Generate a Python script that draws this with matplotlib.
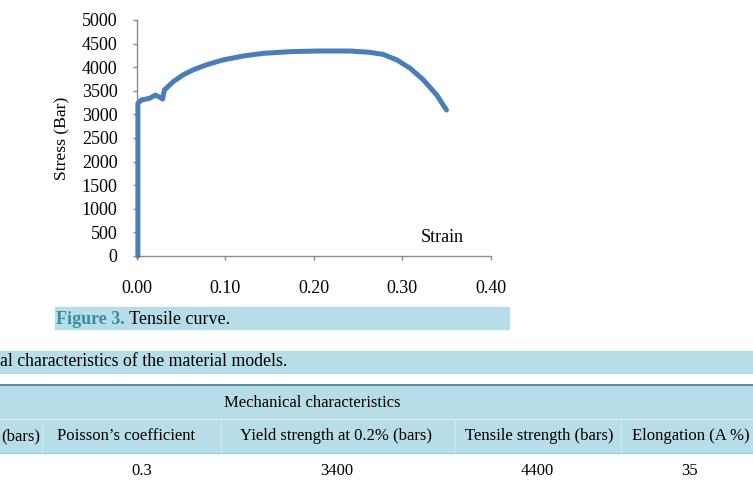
import matplotlib
matplotlib.use("Agg")
import matplotlib.pyplot as plt
from matplotlib.patches import Rectangle
from matplotlib.lines import Line2D

# ---- data ----
strain = [0.001, 0.001, 0.005, 0.014, 0.021, 0.026, 0.029, 0.031, 0.041, 0.052,
          0.063, 0.078, 0.097, 0.120, 0.143, 0.173, 0.203, 0.241, 0.263, 0.278,
          0.294, 0.309, 0.324, 0.339, 0.350]
stress = [0, 3234, 3305, 3340, 3410, 3360, 3325, 3517, 3694, 3835,
          3940, 4047, 4153, 4237, 4294, 4329, 4343, 4343, 4315, 4273,
          4153, 3976, 3729, 3410, 3093]
y_ticks = [0, 500, 1000, 1500, 2000, 2500, 3000, 3500, 4000, 4500, 5000]
x_ticks = [0.00, 0.10, 0.20, 0.30, 0.40]

caption_fig = "Figure 3."
caption_text = " Tensile curve."
table_caption = "al characteristics of the material models."
table_group = "Mechanical characteristics"
table_headers = ["(bars)", "Poisson\u2019s coefficient", "Yield strength at 0.2% (bars)",
                 "Tensile strength (bars)", "Elongation (A %)"]
table_values = ["", "0.3", "3400", "4400", "35"]

W, H = 753, 482
plt.rcParams['font.family'] = ['Liberation Serif', 'DejaVu Serif']
fig = plt.figure(figsize=(W / 100, H / 100), dpi=100)

def fx(x):
    return x / W

def fy(y):
    return 1 - y / H

# ---- chart ----
ax_w = fx(490.7) - fx(137)
ax = fig.add_axes([fx(137), fy(256), ax_w, fy(20) - fy(256)])
ax.plot(strain, stress, color='#4A7EBB', lw=3.6, solid_capstyle='round',
        solid_joinstyle='round', clip_on=False, zorder=3)
ax.set_xlim(0, 0.40)
ax.set_ylim(0, 5000)
ax.set_xticks(x_ticks)
ax.set_xticklabels([f"{v:.2f}" for v in x_ticks])
ax.set_yticks(y_ticks)
ax.set_yticklabels([str(v) for v in y_ticks])
for s in ['top', 'right']:
    ax.spines[s].set_visible(False)
for s in ['left', 'bottom']:
    ax.spines[s].set_color('#8C8C8C')
    ax.spines[s].set_linewidth(1.0)
ax.tick_params(axis='both', colors='#8C8C8C', labelcolor='black', labelsize=13,
               length=3, width=1.0, direction='out')
ax.tick_params(axis='x', pad=14)
ax.tick_params(axis='y', pad=11)
ax.set_ylabel("Stress (Bar)", fontsize=12.6)
ax.yaxis.set_label_coords(fx(70 - 137) / ax_w, 0.5)
ax.text(0.3457, 395, "Strain", fontsize=13, ha='center', va='center')
ax.patch.set_alpha(0)

# ---- caption band ----
fig.patches.append(Rectangle((fx(55), fy(329)), fx(509) - fx(55), fy(307) - fy(329),
                             transform=fig.transFigure, color='#B7DDE8', zorder=0))
t1 = fig.text(fx(56), fy(319), caption_fig, fontsize=13, fontweight='bold',
              color='#3A8E9C', va='center', ha='left')
fig.canvas.draw()
bb = t1.get_window_extent()
fig.text(bb.x1 / W, fy(319), caption_text, fontsize=13, color='black',
         va='center', ha='left')

# ---- table caption band ----
fig.patches.append(Rectangle((0, fy(373)), 1, fy(351) - fy(373),
                             transform=fig.transFigure, color='#B7DDE8', zorder=0))
fig.text(fx(0), fy(362), table_caption, fontsize=12.8, va='center', ha='left')

# ---- table header ----
fig.patches.append(Rectangle((0, fy(453)), 1, fy(385) - fy(453),
                             transform=fig.transFigure, color='#B7DDE8', zorder=0))
fig.lines.append(Line2D([0, 1], [fy(385), fy(385)], transform=fig.transFigure,
                        color='#4F8494', lw=1.3))
fig.lines.append(Line2D([0, 1], [fy(419), fy(419)], transform=fig.transFigure,
                        color='#D8EEF4', lw=1.0))
fig.lines.append(Line2D([0, 1], [fy(453), fy(453)], transform=fig.transFigure,
                        color='#9FCAD7', lw=0.8))
for xs in [42, 221, 455, 621]:
    fig.lines.append(Line2D([fx(xs), fx(xs)], [fy(452), fy(420)],
                            transform=fig.transFigure, color='#D0E9F0', lw=0.8))

fig.text(fx(312), fy(403), table_group, fontsize=12, ha='center', va='center')
header_x = [1, 126, 336, 539, 691]
header_ha = ['left', 'center', 'center', 'center', 'center']
value_x = [16, 142, 337, 537, 690]
for hx, h, ha in zip(header_x, table_headers, header_ha):
    fig.text(fx(hx), fy(436), h, fontsize=12, ha=ha, va='center')
for vx, v in zip(value_x, table_values):
    if v:
        fig.text(fx(vx), fy(471), v, fontsize=12, ha='center', va='center')

fig.savefig("out.png", dpi=100)
